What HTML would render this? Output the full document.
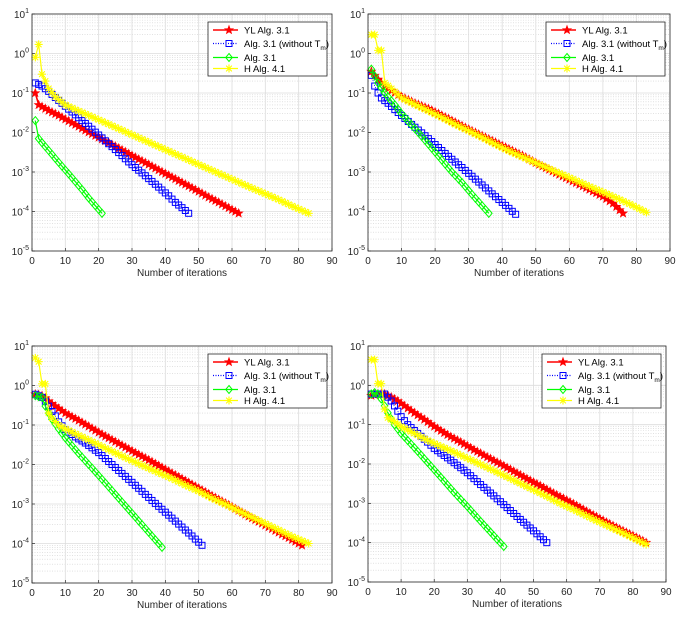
<!DOCTYPE html>
<html><head><meta charset="utf-8">
<style>
html,body{margin:0;padding:0;background:#fff;}
svg{display:block;font-family:"Liberation Sans",sans-serif;}
</style></head>
<body>
<svg id="fig" width="682" height="625" viewBox="0 0 682 625" xmlns="http://www.w3.org/2000/svg"></svg>
<script>
// ---- data ----
const xTicks = [0,10,20,30,40,50,60,70,80,90];
const yExps = [1,0,-1,-2,-3,-4,-5];
const seriesNames = ["YL Alg. 3.1","Alg. 3.1 (without T","Alg. 3.1","H Alg. 4.1"];

// Panel 1
const p1RedX = [1,2,5,8,11,14,17,20,23,26,29,32,35,38,41,44,47,50,53,56,59,62];
const p1RedY = [0.1,0.05,0.036,0.027,0.0195,0.0142,0.0102,0.0075,0.0055,0.004,0.0029,0.0021,0.00155,0.00112,0.00082,0.0006,0.00044,0.00032,0.00023,0.00017,0.000123,9e-5];
const p1BlueX = [1,2,3,5,7,9,11,13,15,17,19,21,23,25,27,29,31,33,35,37,39,41,43,45,47];
const p1BlueY = [0.18,0.165,0.15,0.11,0.077,0.055,0.039,0.028,0.02,0.0144,0.0102,0.0073,0.0052,0.0037,0.0026,0.0018,0.0013,0.00095,0.00068,0.00049,0.00035,0.00025,0.00017,0.000125,9e-5];
const p1GreenX = [1,2,3,5,7,9,11,13,15,17,19,21];
const p1GreenY = [0.02,0.007,0.0055,0.0035,0.0022,0.0014,0.0009,0.00057,0.00036,0.00022,0.00014,9e-5];
const p1YellowX = [1,2,3,4,5,7,10,14,18,22,26,30,34,38,42,46,50,54,58,62,66,70,74,78,83];
const p1YellowY = [0.8,1.7,0.3,0.2,0.13,0.08,0.05,0.035,0.025,0.0177,0.0125,0.0088,0.0062,0.0044,0.0031,0.0022,0.00155,0.0011,0.00078,0.00055,0.00039,0.00028,0.0002,0.000138,9e-5];

// Panel 2
const p2RedX = [1,3,5,7,10,14,18,22,26,30,34,38,42,46,50,54,58,62,66,70,73,76];
const p2RedY = [0.35,0.22,0.15,0.115,0.08,0.055,0.04,0.027,0.018,0.012,0.0082,0.0056,0.0038,0.0026,0.0017,0.00115,0.00078,0.00053,0.00036,0.00024,0.00016,9e-5];
const p2BlueX = [1,2,3,4,6,8,10,13,16,19,22,25,28,31,34,37,40,42,44];
const p2BlueY = [0.28,0.15,0.1,0.075,0.055,0.038,0.027,0.016,0.0098,0.0059,0.0035,0.0021,0.0013,0.00078,0.00047,0.00028,0.00017,0.00012,8.5e-5];
const p2GreenX = [1,3,5,8,10,13,16,19,22,25,28,31,34,36];
const p2GreenY = [0.4,0.18,0.1,0.05,0.03,0.0155,0.008,0.004,0.002,0.001,0.00054,0.00027,0.00014,9e-5];
const p2YellowX = [1,2,3,4,5,7,10,14,18,22,26,30,34,38,42,46,50,54,58,62,66,70,74,78,83];
const p2YellowY = [3,3,1.2,1.2,0.18,0.13,0.075,0.051,0.035,0.024,0.016,0.011,0.0075,0.005,0.0034,0.0024,0.0017,0.00121,0.00086,0.00061,0.00043,0.00031,0.00022,0.000155,9.5e-5];

// Panel 3
const p3RedX = [1,2,3,4,5,7,10,14,18,22,26,30,34,38,42,46,50,54,58,62,66,70,74,78,81];
const p3RedY = [0.6,0.58,0.55,0.48,0.4,0.3,0.2,0.13,0.082,0.052,0.034,0.022,0.0145,0.0094,0.006,0.0039,0.0025,0.0016,0.00105,0.00068,0.00044,0.00029,0.00019,0.000125,9e-5];
const p3BlueX = [1,2,3,4,5,6,7,8,10,13,16,20,24,28,32,36,40,44,48,51];
const p3BlueY = [0.6,0.55,0.5,0.4,0.3,0.22,0.17,0.12,0.076,0.05,0.035,0.02,0.01,0.005,0.0025,0.00123,0.00062,0.00031,0.000155,9e-5];
const p3GreenX = [1,3,4,5,6,8,10,14,18,22,26,30,34,39];
const p3GreenY = [0.55,0.5,0.3,0.2,0.14,0.08,0.047,0.019,0.0081,0.0034,0.0014,0.00058,0.00024,8e-5];
const p3YellowX = [1,2,3,4,5,6,8,10,14,18,22,26,30,34,38,42,46,50,54,58,62,66,70,74,78,83];
const p3YellowY = [5,4,1.1,1.1,0.2,0.15,0.1,0.08,0.055,0.038,0.026,0.018,0.0125,0.0088,0.0062,0.0044,0.003,0.0021,0.0014,0.00098,0.00067,0.00046,0.00032,0.00022,0.00015,1e-4];

// Panel 4
const p4RedX = [1,3,5,7,9,11,14,17,20,24,28,32,36,40,44,48,52,56,60,64,68,72,76,80,84];
const p4RedY = [0.55,0.6,0.6,0.5,0.4,0.3,0.2,0.135,0.09,0.055,0.036,0.023,0.015,0.01,0.0065,0.0042,0.0028,0.0018,0.0012,0.00078,0.0005,0.00033,0.00022,0.00015,1e-4];
const p4BlueX = [1,3,5,6,7,8,9,10,12,15,18,20,25,30,34,38,42,46,50,54];
const p4BlueY = [0.6,0.6,0.6,0.5,0.4,0.3,0.22,0.16,0.1,0.06,0.036,0.025,0.0125,0.006,0.003,0.00155,0.00078,0.00039,0.0002,1e-4];
const p4GreenX = [1,2,3,4,5,6,7,8,10,14,18,22,26,30,34,38,41];
const p4GreenY = [0.6,0.65,0.6,0.45,0.3,0.2,0.14,0.1,0.06,0.026,0.011,0.0046,0.0019,0.00083,0.00035,0.00015,8e-5];
const p4YellowX = [1,2,3,4,5,6,8,10,14,18,22,26,30,34,38,42,46,50,54,58,62,66,70,74,78,84];
const p4YellowY = [4.5,4.5,1.1,1.1,0.25,0.15,0.12,0.09,0.06,0.04,0.028,0.02,0.014,0.0098,0.0068,0.0047,0.0032,0.0022,0.0015,0.001,0.0007,0.00048,0.00033,0.00023,0.00016,9e-5];

const panels = [
  {left:32, top:14, w:300, h:237, s:[[p1RedX,p1RedY],[p1BlueX,p1BlueY],[p1GreenX,p1GreenY],[p1YellowX,p1YellowY]]},
  {left:368, top:14, w:302, h:237, s:[[p2RedX,p2RedY],[p2BlueX,p2BlueY],[p2GreenX,p2GreenY],[p2YellowX,p2YellowY]]},
  {left:32, top:346, w:300, h:237, s:[[p3RedX,p3RedY],[p3BlueX,p3BlueY],[p3GreenX,p3GreenY],[p3YellowX,p3YellowY]]},
  {left:368, top:346, w:298, h:236, s:[[p4RedX,p4RedY],[p4BlueX,p4BlueY],[p4GreenX,p4GreenY],[p4YellowX,p4YellowY]]}
];
const colors = ["#ff0000","#0000ff","#00ff00","#ffff00"];
const NS = "http://www.w3.org/2000/svg";
const fig = document.getElementById('fig');

function el(tag, attrs, parent){
  const e = document.createElementNS(NS, tag);
  for (const k in attrs) e.setAttribute(k, attrs[k]);
  parent.appendChild(e);
  return e;
}
function starPts(cx,cy,r){
  let p=[];
  for(let i=0;i<10;i++){const a=-Math.PI/2+i*Math.PI/5;const rr=i%2?r*0.42:r;p.push((cx+rr*Math.cos(a)).toFixed(1)+','+(cy+rr*Math.sin(a)).toFixed(1));}
  return p.join(' ');
}
function marker(k,cx,cy,g){
  let m;
  if(k===0){m=el('polygon',{points:starPts(cx,cy,4.5),fill:colors[0],stroke:colors[0],'stroke-width':0.6},g);}
  else if(k===1){m=el('rect',{x:cx-3,y:cy-3,width:6,height:6,fill:'none',stroke:colors[1],'stroke-width':1},g);}
  else if(k===2){m=el('polygon',{points:`${cx},${cy-4} ${cx+3.3},${cy} ${cx},${cy+4} ${cx-3.3},${cy}`,fill:'none',stroke:colors[2],'stroke-width':1},g);}
  else {m=el('path',{d:`M${cx-4},${cy}H${cx+4}M${cx},${cy-4}V${cy+4}M${cx-2.9},${cy-2.9}L${cx+2.9},${cy+2.9}M${cx-2.9},${cy+2.9}L${cx+2.9},${cy-2.9}`,stroke:colors[3],'stroke-width':1.1,fill:'none'},g);}
  
  
  return m;
}
// position along the plotted (log-linear) line at iteration x
function lineAt(xs,ys,x){
  for(let i=0;i<xs.length-1;i++){
    if(x>=xs[i] && x<=xs[i+1]){
      const t=(x-xs[i])/(xs[i+1]-xs[i]);
      return Math.pow(10, Math.log10(ys[i])*(1-t)+Math.log10(ys[i+1])*t);
    }
  }
  return ys[ys.length-1];
}

panels.forEach((P,pi)=>{
  const g = el('g',{},fig);
  
  
  const sx = v => P.left + v/90*P.w;
  const sy = v => P.top + (1 - Math.log10(v))/6*P.h;
  const sye = e => P.top + (1 - e)/6*P.h;
  for(let e=1;e>-5;e--){
    for(let m=2;m<=9;m++){
      const y = sy(m*Math.pow(10,e-1));
      const l=el('line',{x1:P.left,x2:P.left+P.w,y1:y,y2:y,stroke:'#d0d0d0','stroke-width':0.6,'stroke-dasharray':'1,1.5'},g);
      
      
    }
  }
  xTicks.forEach(t=>{
    const x=sx(t);
    const l=el('line',{x1:x,x2:x,y1:P.top,y2:P.top+P.h,stroke:'#dcdcdc','stroke-width':0.8},g);
    
    
    const tk=el('line',{x1:x,x2:x,y1:P.top+P.h,y2:P.top+P.h-3,stroke:'#262626','stroke-width':0.7},g);
    
    
    const tx=el('text',{x:x,y:P.top+P.h+13,'text-anchor':'middle','font-size':'10px',fill:'#262626'},g);
    tx.textContent=t;
    
    
  });
  yExps.forEach(e=>{
    const y=sye(e);
    const l=el('line',{x1:P.left,x2:P.left+P.w,y1:y,y2:y,stroke:'#dcdcdc','stroke-width':0.8},g);
    
    
    const tx=el('text',{x:P.left-3,y:y+4,'text-anchor':'end','font-size':'10px',fill:'#262626'},g);
    
    
    const base=el('tspan',{},tx); base.textContent='10';
    const sup=el('tspan',{dy:-5,'font-size':'7px'},tx); sup.textContent=String(e);
    const tk=el('line',{x1:P.left,x2:P.left+3,y1:y,y2:y,stroke:'#262626','stroke-width':0.7},g);
    
    
  });
  P.s.forEach((sd,k)=>{
    const xs=sd[0], ys=sd[1];
    const sg=el('g',{},g);
    
    
    const pts=xs.map((x,i)=>sx(x).toFixed(1)+','+sy(ys[i]).toFixed(1)).join(' ');
    const attrs={points:pts,fill:'none',stroke:colors[k],'stroke-width':k===0?1.6:(k===1?0.9:1.2)};
    if(k===1) attrs['stroke-dasharray']='1,1.5';
    const pl=el('polyline',attrs,sg);
    
    
    // one marker per iteration along the line
    for(let x=xs[0]; x<=xs[xs.length-1]; x++){
      marker(k,sx(x),sy(lineAt(xs,ys,x)),sg);
    }
  });
  const bx=el('rect',{x:P.left,y:P.top,width:P.w,height:P.h,fill:'none',stroke:'#262626','stroke-width':0.8},g);
  
  
  const xl=el('text',{x:P.left+P.w/2,y:P.top+P.h+25,'text-anchor':'middle','font-size':'10px',fill:'#262626'},g);
  xl.textContent='Number of iterations';
  
  
  const lg=el('g',{},g);
  
  
  const L=P.left+P.w-124, T=P.top+8;
  el('rect',{x:L,y:T,width:119,height:54,fill:'#fff',stroke:'#262626','stroke-width':0.8},lg);
  const ey=[8,21.5,35.5,46.5];
  seriesNames.forEach((nm,k)=>{
    const eg=el('g',{},lg);
    
    
    const y=T+ey[k];
    const a={x1:L+5,x2:L+30,y1:y,y2:y,stroke:colors[k],'stroke-width':k===0?1.6:1.2};
    if(k===1) a['stroke-dasharray']='1,1.5';
    el('line',a,eg);
    marker(k,L+21,y,eg);
    const t=el('text',{x:L+36,y:y+3.5,'font-size':'9.5px',fill:'#000'},eg);
    const t1=el('tspan',{},t); t1.textContent=nm;
    if(k===1){
      const t2=el('tspan',{dy:3,'font-size':'6.5px'},t); t2.textContent='m';
      const t3=el('tspan',{dy:-3},t); t3.textContent=')';
    }
  });
});
</script>
</body></html>
